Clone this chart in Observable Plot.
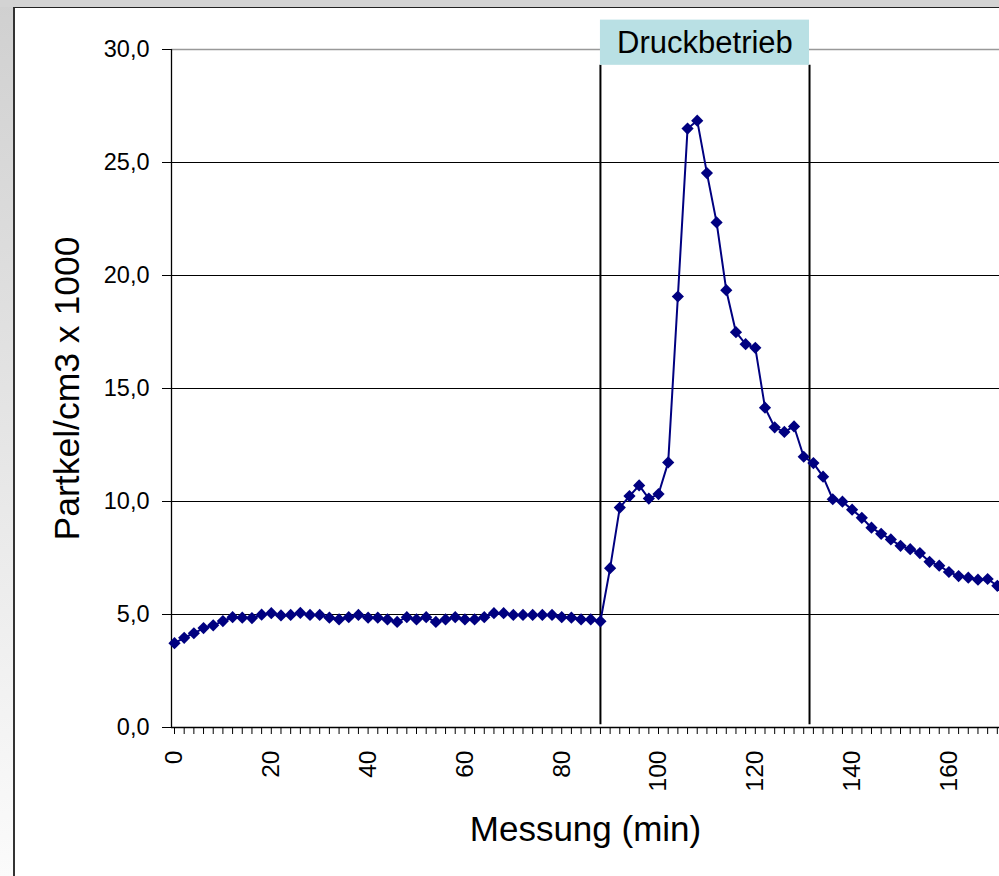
<!DOCTYPE html>
<html>
<head>
<meta charset="utf-8">
<script src="https://cdn.jsdelivr.net/npm/d3@7"></script>
<script src="https://cdn.jsdelivr.net/npm/@observablehq/plot@0.6"></script>
<style>
  html, body { margin: 0; padding: 0; width: 999px; height: 876px; overflow: hidden; }
  body { background: linear-gradient(to bottom, #d0d0d0, #fbfbfb); position: relative; font-family: "Liberation Sans", Arial, sans-serif; }
  #topstrip { position: absolute; left: 0; top: 0; width: 999px; height: 7px; background: #d3d3d3; }
  #panel { position: absolute; left: 13px; top: 7px; right: 0; bottom: 0; background: #fff; border-left: 2px solid #333; border-top: 1px solid #222; }
  #chart { position: absolute; left: 0; top: 0; }
</style>
</head>
<body>
<div id="topstrip"></div>
<div id="panel"></div>
<div id="chart"></div>
<script>
// Measurement times (min)
const minutes = [0,2,4,6,8,10,12,14,16,18,20,22,24,26,28,30,32,34,36,38,40,42,44,46,48,50,52,54,56,58,60,62,64,66,68,70,72,74,76,78,80,82,84,86,88,90,92,94,96,98,100,102,104,106,108,110,112,114,116,118,120,122,124,126,128,130,132,134,136,138,140,142,144,146,148,150,152,154,156,158,160,162,164,166,168,170];
// Particles / cm3 x 1000
const particles = [3.73,3.97,4.17,4.40,4.52,4.71,4.88,4.86,4.84,4.99,5.06,4.96,4.98,5.07,4.98,4.98,4.86,4.78,4.88,4.98,4.86,4.86,4.78,4.67,4.88,4.78,4.88,4.67,4.78,4.88,4.78,4.78,4.88,5.06,5.06,4.98,4.98,4.98,4.98,4.98,4.88,4.86,4.78,4.78,4.70,7.05,9.73,10.24,10.71,10.13,10.33,11.73,19.07,26.5,26.85,24.53,22.35,19.35,17.49,16.96,16.8,14.15,13.28,13.08,13.32,11.98,11.7,11.1,10.1,9.99,9.64,9.28,8.84,8.57,8.32,8.04,7.89,7.72,7.33,7.16,6.88,6.70,6.63,6.54,6.57,6.27];
const yTicks = [0, 5, 10, 15, 20, 25, 30];
const xLabelTicks = [0, 20, 40, 60, 80, 100, 120, 140, 160];
const phaseStart = 88;
const phaseEnd = 131.2;
const phaseLabel = "Druckbetrieb";
const phaseBox = [{x1: phaseStart, x2: phaseEnd, y1: 29.3, y2: 31.3, label: phaseLabel}];
const phaseLines = [phaseStart, phaseEnd];
const xTitle = "Messung (min)";
const yTitle = "Partkel/cm3 x 1000";

const data = minutes.map((m, i) => ({m, v: particles[i]}));
const fmt = d => d3.format(".1f")(d).replace(".", ",");
const FONT = "Liberation Sans, Arial, sans-serif";

const chart = Plot.plot({
  width: 999,
  height: 876,
  marginLeft: 171,
  marginRight: 0,
  marginTop: 49,
  marginBottom: 149,
  style: {background: "transparent", fontFamily: FONT, fontSize: "23px", color: "#000", overflow: "hidden"},
  x: {domain: [-0.62, 170.45], axis: null},
  y: {domain: [0, 30], axis: null},
  marks: [
    Plot.ruleY(yTicks.filter(d => d > 0 && d < 30), {stroke: "#000", strokeWidth: 1.2}),
    Plot.ruleY([30], {stroke: "#999", strokeWidth: 1.5}),
    Plot.ruleX([-0.62], {y1: 0, y2: 30, stroke: "#000", strokeWidth: 1.3}),
    Plot.ruleY([0], {stroke: "#000", strokeWidth: 1.3}),
    Plot.axisY({ticks: yTicks, tickSize: 9, tickPadding: 13, tickFormat: fmt, fontSize: 23.5, label: null, stroke: "#000"}),
    Plot.axisX({ticks: minutes, tickSize: 7, tickFormat: () => "", label: null, stroke: "#000"}),
    Plot.text(xLabelTicks, {x: d => d, text: d => String(d), frameAnchor: "bottom", dy: 23, rotate: -90, textAnchor: "end", lineAnchor: "middle", fontSize: 24.5, fill: "#000"}),
    Plot.ruleX(phaseLines, {y1: 0.12, y2: 29.3, stroke: "#000", strokeWidth: 2}),
    Plot.rect(phaseBox, {x1: "x1", x2: "x2", y1: "y1", y2: "y2", fill: "#b9e0e4"}),
    Plot.text(phaseBox, {x: d => (d.x1 + d.x2) / 2, y: d => (d.y1 + d.y2) / 2, text: "label", fontSize: 31, fill: "#000"}),
    Plot.line(data, {x: "m", y: "v", stroke: "#000080", strokeWidth: 2}),
    Plot.dot(data, {x: "m", y: "v", symbol: "diamond2", r: 5.5, fill: "#000080", stroke: "none"}),
    Plot.text([yTitle], {frameAnchor: "left", dx: -104, rotate: -90, textAnchor: "middle", lineAnchor: "middle", fontSize: 35.5, fill: "#000"}),
    Plot.text([xTitle], {frameAnchor: "bottom", dy: 102, textAnchor: "middle", lineAnchor: "middle", fontSize: 35, fill: "#000"})
  ]
});
document.getElementById("chart").appendChild(chart);
</script>
</body>
</html>
